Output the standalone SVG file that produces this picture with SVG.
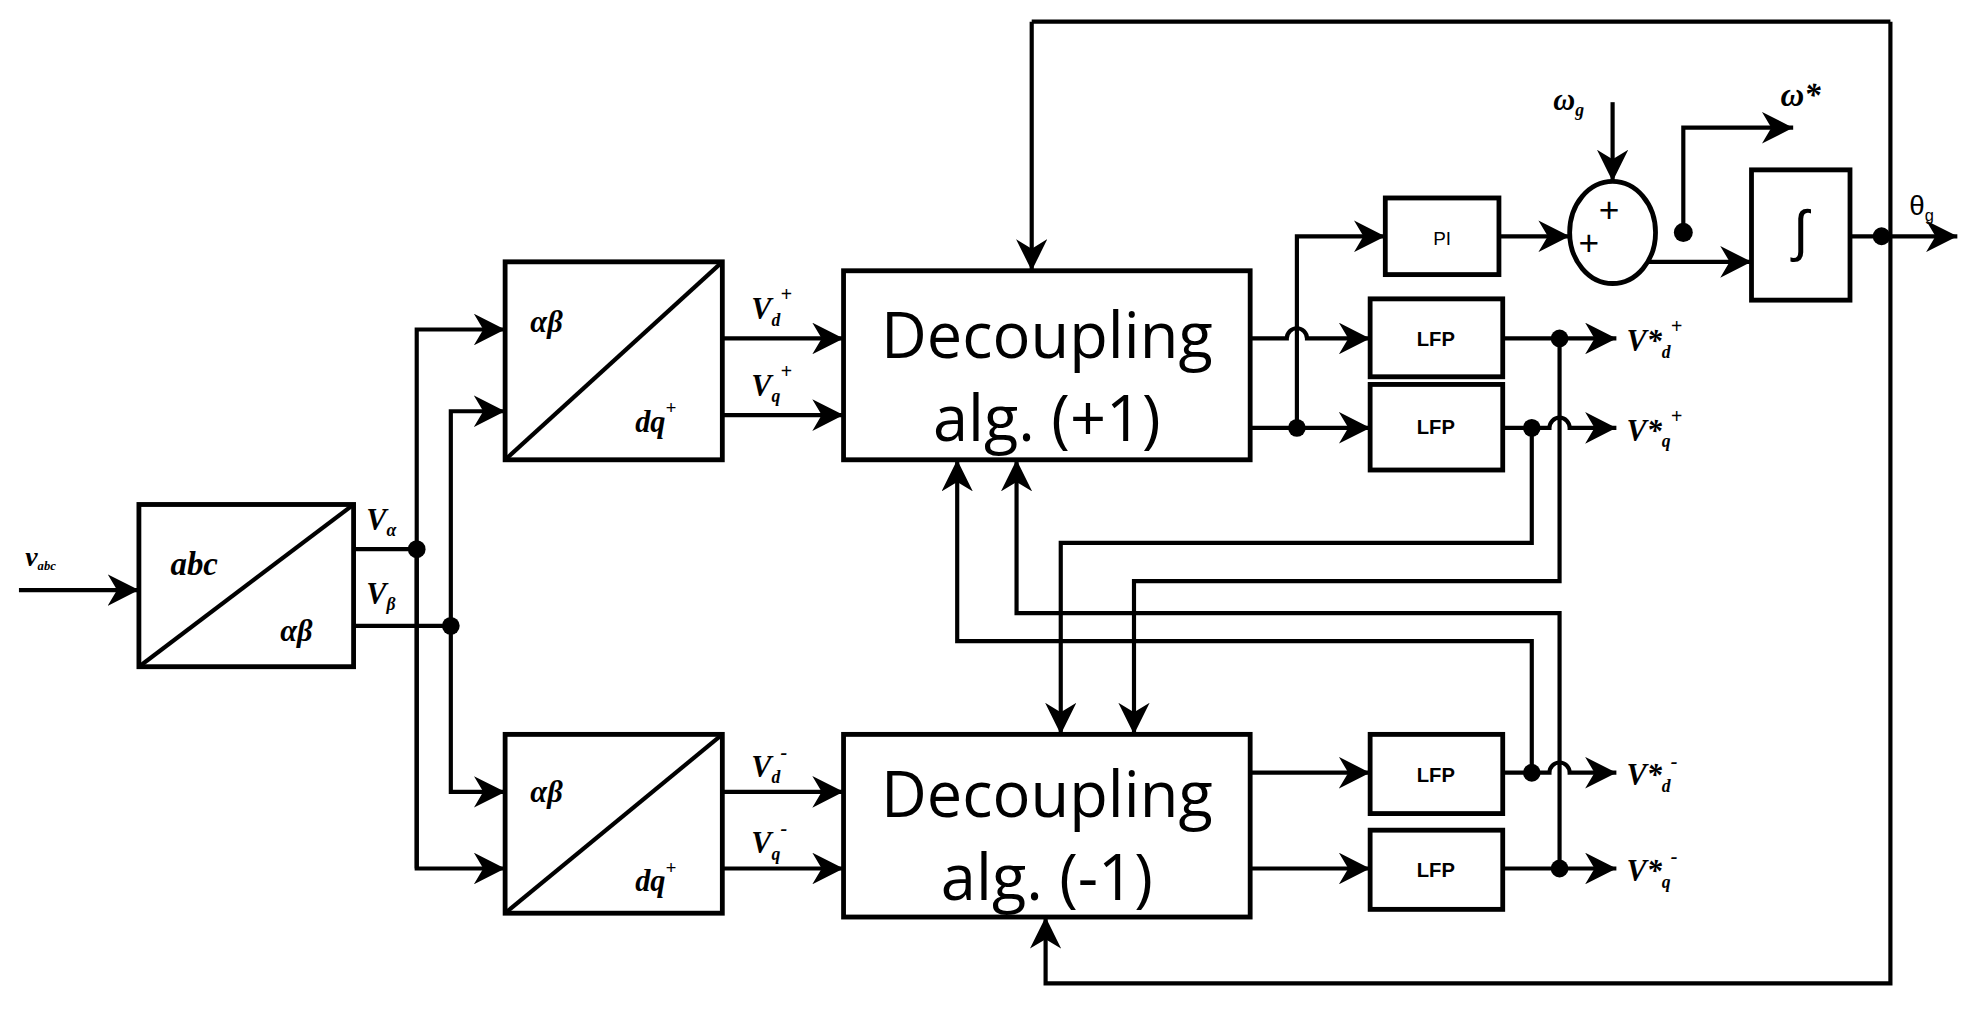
<svg xmlns="http://www.w3.org/2000/svg" width="1970" height="1009" viewBox="0 0 1970 1009">
<defs>
<marker id="a" viewBox="0 0 10 10" refX="10" refY="5" markerWidth="7.5" markerHeight="7.5" orient="auto"><path d="M0,0 L10,5 L0,10 L3,5 z" fill="#000"/></marker>
</defs>
<style>
.b{fill:#fff;stroke:#000;stroke-width:3.8}
.w{fill:none;stroke:#000;stroke-width:3.3}
.ar{fill:none;stroke:#000;stroke-width:3.3;marker-end:url(#a)}
.t{font-family:"Liberation Sans",Arial,sans-serif;fill:#000}
.i{font-family:"Liberation Serif","Times New Roman",serif;font-style:italic;font-weight:bold;fill:#000}
.big{font-family:"Open Sans","Liberation Sans",sans-serif;font-size:50px;fill:#000}
.s{font-family:"Liberation Sans",Arial,sans-serif;font-size:16px;font-weight:bold;fill:#000}
</style>
<rect width="1970" height="1009" fill="#fff"/>
<g transform="scale(1.2628,1.2772)">
<g id="abc">
<rect class="b" x="110" y="395" width="170" height="127"/>
<line class="w" x1="110" y1="522" x2="280" y2="395"/>
<text class="i" x="135" y="450" font-size="26">abc</text>
<text class="i" x="222" y="502" font-size="24">αβ</text>
</g>
<g id="tr1">
<rect class="b" x="400" y="205" width="172" height="155"/>
<line class="w" x1="400" y1="360" x2="572" y2="205"/>
<text class="i" x="420" y="260" font-size="24">αβ</text>
<text class="i" x="503" y="338" font-size="24">dq<tspan font-size="15" dy="-14">+</tspan></text>
</g>
<g id="tr2">
<rect class="b" x="400" y="575" width="172" height="140"/>
<line class="w" x1="400" y1="715" x2="572" y2="575"/>
<text class="i" x="420" y="628" font-size="24">αβ</text>
<text class="i" x="503" y="698" font-size="24">dq<tspan font-size="15" dy="-14">+</tspan></text>
</g>
<g id="dec1">
<rect class="b" x="668" y="212" width="322" height="148"/>
<text class="big" x="829" y="280" text-anchor="middle">Decoupling</text>
<text class="big" x="829" y="345" text-anchor="middle">alg. (+1)</text>
</g>
<g id="dec2">
<rect class="b" x="668" y="575" width="322" height="143"/>
<text class="big" x="829" y="640" text-anchor="middle">Decoupling</text>
<text class="big" x="829" y="705" text-anchor="middle">alg. (-1)</text>
</g>
<g id="pi"><rect class="b" x="1097" y="155" width="90" height="60"/><text class="t" x="1142" y="192" font-size="15" text-anchor="middle">PI</text></g>
<g id="lfp1"><rect class="b" x="1085" y="234" width="105" height="61"/><text class="s" x="1137" y="271" text-anchor="middle">LFP</text></g>
<g id="lfp2"><rect class="b" x="1085" y="301" width="105" height="67"/><text class="s" x="1137" y="340" text-anchor="middle">LFP</text></g>
<g id="lfp3"><rect class="b" x="1085" y="575" width="105" height="62"/><text class="s" x="1137" y="612" text-anchor="middle">LFP</text></g>
<g id="lfp4"><rect class="b" x="1085" y="650" width="105" height="62"/><text class="s" x="1137" y="687" text-anchor="middle">LFP</text></g>
<g id="sum">
<ellipse class="b" cx="1277" cy="182" rx="34" ry="40"/>
<text class="t" x="1250" y="200" font-size="28">+</text>
<text class="t" x="1266" y="174" font-size="28">+</text>
</g>
<g id="int"><rect class="b" x="1387" y="133" width="78" height="102"/><text class="t" x="1426" y="196" font-size="44" text-anchor="middle">∫</text></g>
<g id="labels">
<text class="i" x="20" y="443" font-size="22">v<tspan font-size="10" dy="3">abc</tspan></text>
<text class="i" x="290" y="415" font-size="24">V<tspan font-size="14" dy="5">α</tspan></text>
<text class="i" x="290" y="473" font-size="24">V<tspan font-size="14" dy="5">β</tspan></text>
<text class="i" x="595" y="250" font-size="24">V<tspan font-size="14" dy="5">d</tspan><tspan font-size="16" dy="-19">+</tspan></text>
<text class="i" x="595" y="310" font-size="24">V<tspan font-size="14" dy="5">q</tspan><tspan font-size="16" dy="-19">+</tspan></text>
<text class="i" x="595" y="608" font-size="24">V<tspan font-size="14" dy="5">d</tspan><tspan font-size="16" dy="-19">-</tspan></text>
<text class="i" x="595" y="668" font-size="24">V<tspan font-size="14" dy="5">q</tspan><tspan font-size="16" dy="-19">-</tspan></text>
<text class="i" x="1288" y="275" font-size="24">V*<tspan font-size="14" dy="5">d</tspan><tspan font-size="16" dy="-19">+</tspan></text>
<text class="i" x="1288" y="345" font-size="24">V*<tspan font-size="14" dy="5">q</tspan><tspan font-size="16" dy="-19">+</tspan></text>
<text class="i" x="1288" y="615" font-size="24">V*<tspan font-size="14" dy="5">d</tspan><tspan font-size="16" dy="-19">-</tspan></text>
<text class="i" x="1288" y="690" font-size="24">V*<tspan font-size="14" dy="5">q</tspan><tspan font-size="16" dy="-19">-</tspan></text>
<text class="i" x="1230" y="86" font-size="24">ω<tspan font-size="14" dy="5">g</tspan></text>
<text class="i" x="1410" y="83" font-size="26">ω*</text>
<text class="t" x="1512" y="168" font-size="22">θ<tspan font-size="13" dy="5">g</tspan></text>
</g>
<g id="connectors">
<path class="ar" d="M15,462 H110"/>
<path class="w" d="M280,430 H330 M280,490 H357"/>
<path class="ar" d="M330,680 V258 H400"/>
<path class="ar" d="M330,430 V680 H400"/>
<path class="ar" d="M357,490 V322 H400"/>
<path class="ar" d="M357,490 V620 H400"/>
<path class="ar" d="M572,265 H668"/>
<path class="ar" d="M572,325 H668"/>
<path class="ar" d="M572,620 H668"/>
<path class="ar" d="M572,680 H668"/>
<path class="ar" d="M817,17 H1497 M817,17 V212"/>
<path class="ar" d="M1497,17 V770 H828 V718"/>
<path class="ar" d="M990,265 H1019 A8,8 0 0 1 1035,265 H1085"/>
<path class="ar" d="M990,335 H1085"/>
<path class="ar" d="M1027,335 V185 H1097"/>
<path class="ar" d="M1187,185 H1243"/>
<path class="ar" d="M1277,80 V142"/>
<path class="ar" d="M1305,205 H1387"/>
<path class="ar" d="M1333,182 V100 H1420"/>
<path class="ar" d="M1465,185 H1550"/>
<path class="ar" d="M1190,265 H1280"/>
<path class="ar" d="M1190,335 H1227 A8,8 0 0 1 1243,335 H1280"/>
<path class="ar" d="M990,605 H1085"/>
<path class="ar" d="M990,680 H1085"/>
<path class="ar" d="M1190,605 H1227 A8,8 0 0 1 1243,605 H1280"/>
<path class="ar" d="M1190,680 H1280"/>
<path class="ar" d="M1213,335 V425 H840 V575"/>
<path class="ar" d="M1235,265 V455 H898 V575"/>
<path class="ar" d="M1235,680 V480 H805 V360"/>
<path class="ar" d="M1213,605 V502 H758 V360"/>
<g fill="#000">
<circle cx="330" cy="430" r="7"/><circle cx="357" cy="490" r="7"/>
<circle cx="1027" cy="335" r="7"/><circle cx="1333" cy="182" r="7.5"/>
<circle cx="1490" cy="185" r="7"/>
<circle cx="1235" cy="265" r="7"/><circle cx="1213" cy="335" r="7"/>
<circle cx="1213" cy="605" r="7"/><circle cx="1235" cy="680" r="7"/>
</g>
</g>
</g>
</svg>
